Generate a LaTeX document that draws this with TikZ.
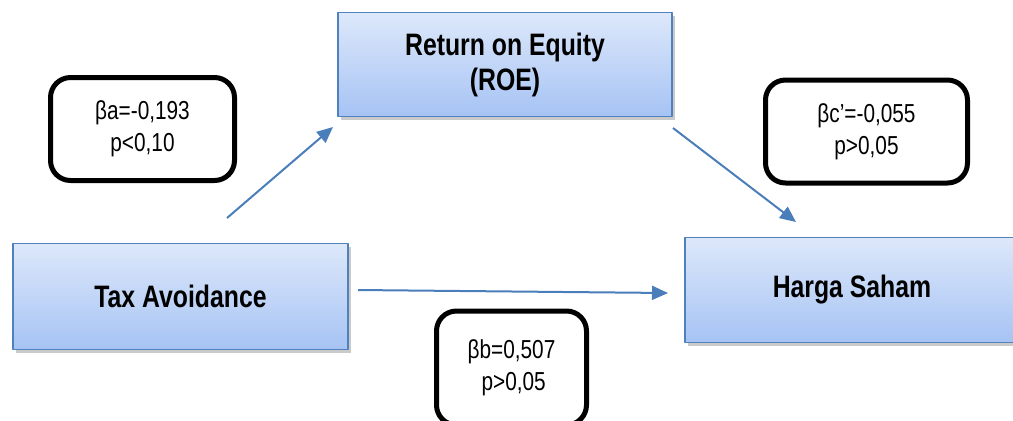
\documentclass[tikz,border=0pt]{standalone}
\usepackage{fontspec}
\setmainfont[FakeStretch=0.8]{Liberation Sans}
\usetikzlibrary{shadows,arrows.meta}
\definecolor{boxblue}{HTML}{4F81BD}
\definecolor{arrblue}{HTML}{4A7EBB}
\definecolor{topblue}{HTML}{DDE8FA}
\definecolor{botblue}{HTML}{A6C3F4}
\begin{document}
\begin{tikzpicture}[x=0.5pt,y=-0.5pt,line join=round,>={Triangle[length=8pt,width=7pt]},
  var/.style={draw=boxblue,line width=0.9pt,top color=topblue,bottom color=botblue,
    drop shadow={shadow xshift=1.5pt,shadow yshift=-1.5pt,opacity=0.35,fill=black!60},
    align=center,inner sep=0pt,font=\bfseries\fontsize{15.5}{17.5}\selectfont},
  stat/.style={draw=black,line width=2.5pt,rounded corners=10pt,fill=white,
    align=center,inner sep=0pt,minimum height=51.5pt,font=\fontsize{13}{16}\selectfont},
  path/.style={->,draw=arrblue,line width=1pt}]
\useasboundingbox (0,0) rectangle (1013,420);
% variables
\node[var,minimum width=167pt,minimum height=52pt] (roe) at (505,64.5) {Return on Equity\\(ROE)};
\node[var,minimum width=167.5pt,minimum height=53pt] (tax) at (180.5,296.5) {Tax Avoidance};
\node[var,minimum width=167pt,minimum height=52.5pt] (harga) at (852,290) {Harga Saham};
% coefficients
\node[stat,minimum width=92pt] (ba) at (142.5,129) {βa=-0,193\\p<0,10};
\node[stat,minimum width=101pt] (bc) at (866.5,131.5) {βc’=-0,055\\p>0,05};
\node[stat,minimum width=75pt,minimum height=57pt] (bb) at (511.5,368) {βb=0,507\\\,p>0,05};
% paths
\coordinate (a1) at (227,218);
\coordinate (a2) at (333,127);
\coordinate (c1) at (673,128);
\coordinate (c2) at (796,222);
\coordinate (b1) at (358,290);
\coordinate (b2) at (668,293);
\draw[path] (a1) -- (a2);
\draw[path] (c1) -- (c2);
\draw[path] (b1) -- (b2);
\end{tikzpicture}
\end{document}
